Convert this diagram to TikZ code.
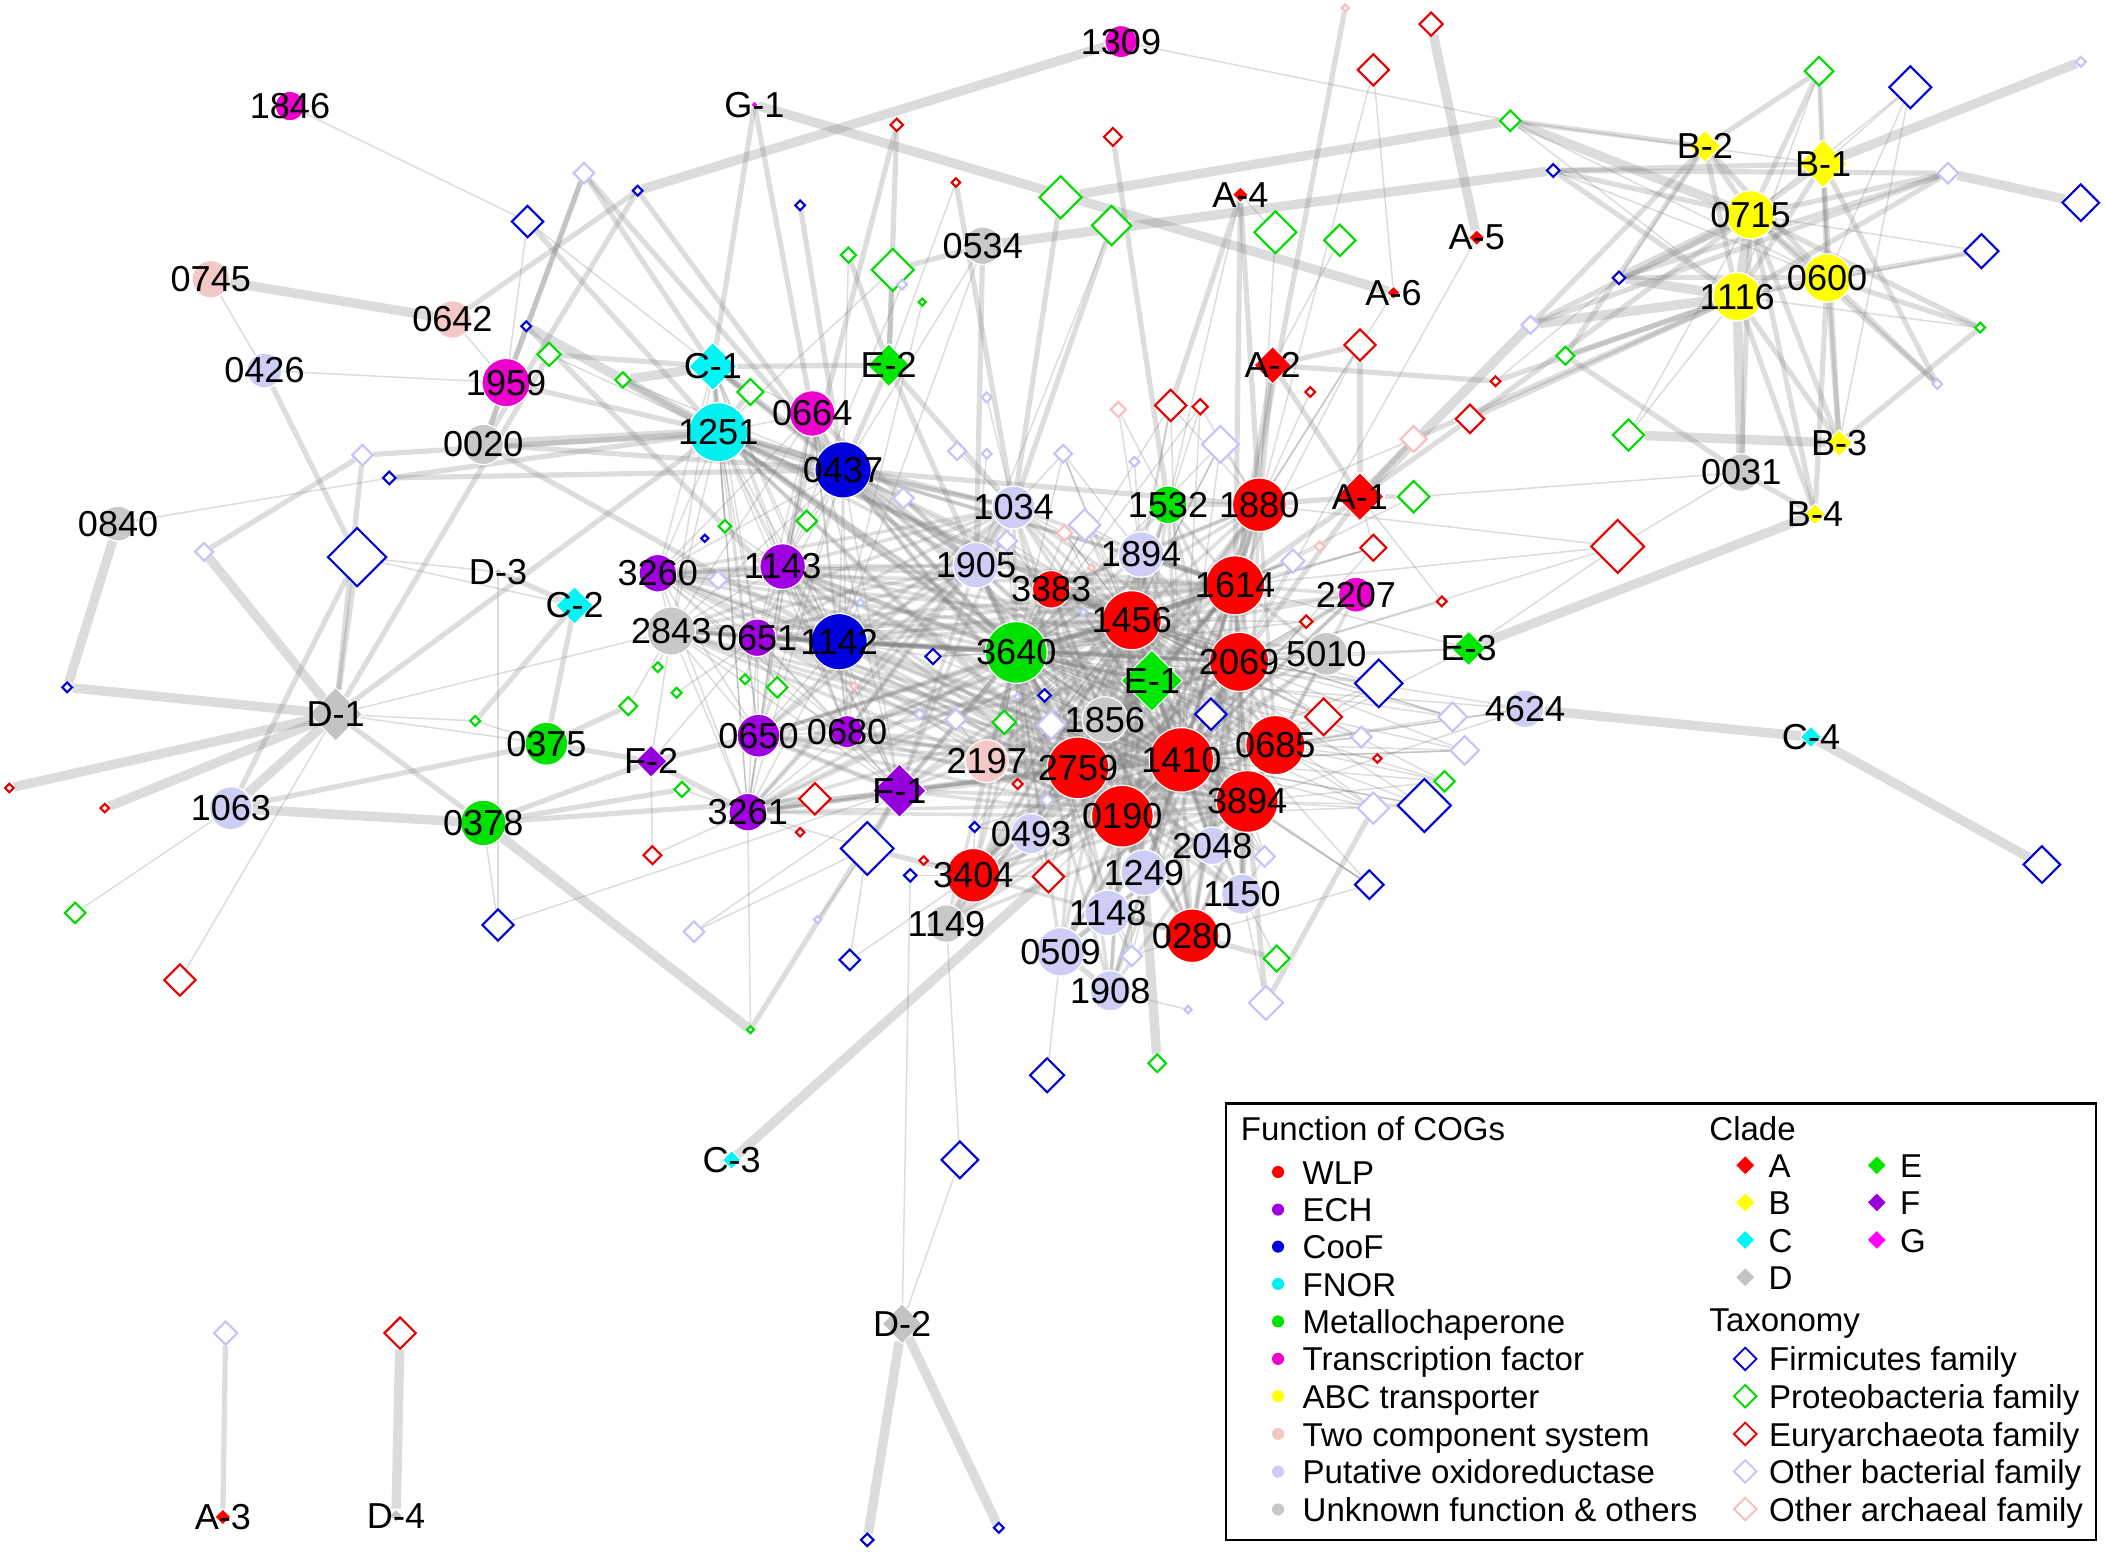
\documentclass[tikz,border=0pt]{standalone}
\usepackage{fontspec}
\setmainfont{Liberation Sans}
\usetikzlibrary{shapes.geometric}
\pgfdeclarelayer{bg}\pgfdeclarelayer{fg}\pgfsetlayers{bg,main,fg}
\definecolor{fnWLP}{RGB}{255,0,0}
\definecolor{fnECH}{RGB}{160,0,225}
\definecolor{fnCOO}{RGB}{0,0,220}
\definecolor{fnFNO}{RGB}{0,240,240}
\definecolor{fnMET}{RGB}{0,225,0}
\definecolor{fnTF}{RGB}{235,0,205}
\definecolor{fnABC}{RGB}{255,255,0}
\definecolor{fnTCS}{RGB}{245,200,200}
\definecolor{fnPOX}{RGB}{205,205,245}
\definecolor{fnUNK}{RGB}{200,200,200}
\definecolor{txFIR}{RGB}{0,0,215}
\definecolor{txPRO}{RGB}{0,220,0}
\definecolor{txEUR}{RGB}{230,0,0}
\definecolor{txOB}{RGB}{195,195,250}
\definecolor{txOA}{RGB}{250,190,190}
\definecolor{clA}{RGB}{255,0,0}
\definecolor{clB}{RGB}{255,255,0}
\definecolor{clC}{RGB}{0,245,245}
\definecolor{clD}{RGB}{195,195,195}
\definecolor{clE}{RGB}{0,230,0}
\definecolor{clF}{RGB}{150,0,220}
\definecolor{clG}{RGB}{255,0,255}
\tikzset{
 cg/.style 2 args={circle,inner sep=0pt,minimum size=#1*0.4mm,fill=#2,draw=white,line width=0.5pt},
 tx/.style 2 args={diamond,aspect=1,inner sep=0pt,minimum size=#1*0.4mm,draw=#2,fill=white,line width=0.9pt},
 cl/.style 2 args={diamond,aspect=1,inner sep=0pt,minimum size=#1*0.4mm,fill=#2,draw=white,line width=0.4pt},
 lb/.style={inner sep=0pt,font=\fontsize{15.3}{18}\selectfont},
 lg/.style={inner sep=0pt,anchor=base west,font=\fontsize{14}{17}\selectfont},
 eT/.style={draw=black!50,draw opacity=0.27,line width=0.65pt},
 eC/.style={draw=black!50,draw opacity=0.25,line width=1.5pt},
 eM/.style={draw=black!50,draw opacity=0.27,line width=2.2pt},
 eK/.style={draw=black!50,draw opacity=0.28,line width=4pt},
}
\newcommand\mkcog[6]{\node[cg={#4}{#5}] (#1) at (#2,#3) {};\begin{pgfonlayer}{fg}\node[lb] (#1l) at (#2,#3) {#6};\end{pgfonlayer}}
\newcommand\mktax[5]{\node[tx={#4}{#5}] (#1) at (#2,#3) {};}
\newcommand\mkclade[6]{\node[cl={#4}{#5}] (#1) at (#2,#3) {};\begin{pgfonlayer}{fg}\node[lb] (#1l) at (#2,#3) {#6};\end{pgfonlayer}}
\begin{document}
\begin{tikzpicture}[x=0.02cm,y=-0.02cm]
\useasboundingbox (0,0) rectangle (1568,1157);
% ---------- COG nodes
\mkcog{c1846}{216}{79}{11}{fnTF}{1846}
\mkcog{c1309}{835}{31}{12}{fnTF}{1309}
\mkcog{c0745}{157}{208}{14}{fnTCS}{0745}
\mkcog{c0642}{337}{238}{14}{fnTCS}{0642}
\mkcog{c0426}{197}{276}{13}{fnPOX}{0426}
\mkcog{c1959}{377}{285}{18}{fnTF}{1959}
\mkcog{c0020}{360}{331}{15}{fnUNK}{0020}
\mkcog{c0840}{88}{390}{13}{fnUNK}{0840}
\mkcog{c1251}{535}{322}{22}{fnFNO}{1251}
\mkcog{c0664}{605}{308}{17}{fnTF}{0664}
\mkcog{c0437}{628}{350}{21}{fnCOO}{0437}
\mkcog{c0534}{732}{183}{14}{fnUNK}{0534}
\mkcog{c1034}{755}{378}{16}{fnPOX}{1034}
\mkcog{c1532}{870}{376}{14}{fnMET}{1532}
\mkcog{c1880}{938}{376}{20}{fnWLP}{1880}
\mkcog{c1143}{583}{422}{17}{fnECH}{1143}
\mkcog{c1905}{727}{421}{17}{fnPOX}{1905}
\mkcog{c1894}{850}{413}{17}{fnPOX}{1894}
\mkcog{c3383}{783}{439}{14}{fnWLP}{3383}
\mkcog{c1614}{920}{436}{22}{fnWLP}{1614}
\mkcog{c2207}{1010}{443}{13}{fnTF}{2207}
\mkcog{c1456}{843}{462}{22}{fnWLP}{1456}
\mkcog{c3260}{490}{427}{14}{fnECH}{3260}
\mkcog{c2843}{500}{470}{18}{fnUNK}{2843}
\mkcog{c0651}{564}{475}{14}{fnECH}{0651}
\mkcog{c1142}{625}{478}{21}{fnCOO}{1142}
\mkcog{c3640}{757}{486}{23}{fnMET}{3640}
\mkcog{c2069}{923}{493}{22}{fnWLP}{2069}
\mkcog{c5010}{988}{487}{16}{fnUNK}{5010}
\mkcog{c1856}{823}{536}{17}{fnUNK}{1856}
\mkcog{c0650}{565}{548}{16}{fnECH}{0650}
\mkcog{c0680}{631}{545}{12}{fnECH}{0680}
\mkcog{c2197}{735}{567}{16}{fnTCS}{2197}
\mkcog{c2759}{803}{572}{23}{fnWLP}{2759}
\mkcog{c1410}{880}{566}{24}{fnWLP}{1410}
\mkcog{c0685}{950}{555}{22}{fnWLP}{0685}
\mkcog{c3261}{557}{605}{14}{fnECH}{3261}
\mkcog{c3894}{929}{597}{23}{fnWLP}{3894}
\mkcog{c0190}{836}{608}{23}{fnWLP}{0190}
\mkcog{c0493}{768}{621}{15}{fnPOX}{0493}
\mkcog{c2048}{903}{630}{14}{fnPOX}{2048}
\mkcog{c3404}{725}{652}{20}{fnWLP}{3404}
\mkcog{c1249}{852}{650}{17}{fnPOX}{1249}
\mkcog{c1150}{925}{666}{15}{fnPOX}{1150}
\mkcog{c1148}{825}{680}{17}{fnPOX}{1148}
\mkcog{c1149}{705}{688}{14}{fnUNK}{1149}
\mkcog{c0280}{888}{697}{20}{fnWLP}{0280}
\mkcog{c0509}{790}{709}{18}{fnPOX}{0509}
\mkcog{c1908}{827}{738}{15}{fnPOX}{1908}
\mkcog{c4624}{1136}{528}{14}{fnPOX}{4624}
\mkcog{c0375}{407}{554}{16}{fnMET}{0375}
\mkcog{c0378}{360}{613}{17}{fnMET}{0378}
\mkcog{c1063}{172}{602}{16}{fnPOX}{1063}
\mkcog{c0031}{1297}{352}{14}{fnUNK}{0031}
\mkcog{c0715}{1304}{160}{18}{fnABC}{0715}
\mkcog{c1116}{1294}{221}{18}{fnABC}{1116}
\mkcog{c0600}{1361}{207}{18}{fnABC}{0600}
% ---------- clade nodes
\mkclade{A1}{1013}{370}{18}{clA}{A-1}
\mkclade{A2}{948}{272}{14}{clA}{A-2}
\mkclade{A3}{166}{1130}{6}{clA}{A-3}
\mkclade{A4}{924}{145}{6}{clA}{A-4}
\mkclade{A5}{1100}{177}{6}{clA}{A-5}
\mkclade{A6}{1038}{218}{5}{clA}{A-6}
\mkclade{B1}{1358}{122}{18}{clB}{B-1}
\mkclade{B2}{1270}{109}{12}{clB}{B-2}
\mkclade{B3}{1370}{330}{10}{clB}{B-3}
\mkclade{B4}{1352}{383}{8}{clB}{B-4}
\mkclade{C1}{531}{273}{18}{clC}{C-1}
\mkclade{C2}{428}{451}{14}{clC}{C-2}
\mkclade{C3}{545}{864}{7}{clC}{C-3}
\mkclade{C4}{1349}{549}{8}{clC}{C-4}
\mkclade{D1}{250}{532}{20}{clD}{D-1}
\mkclade{D2}{672}{986}{15}{clD}{D-2}
\mkclade{D3}{371}{426}{3}{clD}{D-3}
\mkclade{D4}{295}{1129}{5}{clD}{D-4}
\mkclade{E1}{858}{507}{23}{clE}{E-1}
\mkclade{E2}{662}{272}{16}{clE}{E-2}
\mkclade{E3}{1094}{483}{13}{clE}{E-3}
\mkclade{F1}{670}{589}{20}{clF}{F-1}
\mkclade{F2}{485}{567}{12}{clF}{F-2}
\mkclade{G1}{562}{78}{3}{clG}{G-1}
% ---------- taxonomy nodes
\mktax{t1}{1002}{6}{3}{txOA}
\mktax{t2}{1066}{18}{9}{txEUR}
\mktax{t3}{1023}{52}{12}{txEUR}
\mktax{t4}{668}{93}{5}{txEUR}
\mktax{t5}{829}{102}{7}{txEUR}
\mktax{t6}{712}{136}{3.5}{txEUR}
\mktax{t7}{596}{153}{4}{txFIR}
\mktax{t8}{790}{147}{16}{txPRO}
\mktax{t9}{828}{168}{15}{txPRO}
\mktax{t10}{950}{173}{16}{txPRO}
\mktax{t11}{998}{179}{12}{txPRO}
\mktax{t12}{632}{190}{6}{txPRO}
\mktax{t13}{665}{201}{16}{txPRO}
\mktax{t14}{687}{225}{3}{txPRO}
\mktax{t15}{672}{212}{4}{txOB}
\mktax{t16}{1013}{257}{12}{txEUR}
\mktax{t17}{559}{292}{10}{txPRO}
\mktax{t18}{976}{292}{4}{txEUR}
\mktax{t19}{872}{302}{12}{txEUR}
\mktax{t20}{894}{303}{6}{txEUR}
\mktax{t21}{833}{305}{6}{txOA}
\mktax{t22}{909}{331}{14}{txOB}
\mktax{t23}{845}{344}{4}{txOB}
\mktax{t24}{792}{338}{7}{txOB}
\mktax{t25}{713}{336}{7}{txOB}
\mktax{t26}{735}{338}{4}{txOB}
\mktax{t27}{735}{296}{4}{txOB}
\mktax{t28}{673}{371}{8}{txOB}
\mktax{t29}{1125}{90}{8}{txPRO}
\mktax{t30}{1157}{127}{5}{txFIR}
\mktax{t31}{1355}{53}{11}{txPRO}
\mktax{t32}{1423}{65}{16}{txFIR}
\mktax{t33}{1550}{46}{4}{txOB}
\mktax{t34}{1451}{129}{8}{txOB}
\mktax{t35}{1550}{151}{14}{txFIR}
\mktax{t36}{1476}{187}{13}{txFIR}
\mktax{t37}{1206}{207}{5}{txFIR}
\mktax{t38}{1475}{244}{4}{txPRO}
\mktax{t39}{1140}{242}{7}{txOB}
\mktax{t40}{1166}{265}{7}{txPRO}
\mktax{t41}{1443}{286}{4}{txOB}
\mktax{t42}{1114}{284}{4}{txEUR}
\mktax{t43}{1095}{312}{11}{txEUR}
\mktax{t44}{1053}{327}{10}{txOA}
\mktax{t45}{1213}{324}{12}{txPRO}
\mktax{t46}{1053}{370}{12}{txPRO}
\mktax{t47}{1205}{407}{20}{txEUR}
\mktax{t48}{1074}{448}{4}{txEUR}
\mktax{t49}{1023}{408}{10}{txEUR}
\mktax{t50}{983}{407}{4}{txOA}
\mktax{t51}{963}{418}{9}{txOB}
\mktax{t52}{973}{463}{5}{txEUR}
\mktax{t53}{393}{165}{12}{txFIR}
\mktax{t54}{435}{129}{8}{txOB}
\mktax{t55}{475}{142}{4}{txFIR}
\mktax{t56}{392}{243}{4}{txFIR}
\mktax{t57}{409}{264}{9}{txPRO}
\mktax{t58}{464}{283}{6}{txPRO}
\mktax{t59}{270}{339}{8}{txOB}
\mktax{t60}{290}{356}{5}{txFIR}
\mktax{t61}{152}{411}{7}{txOB}
\mktax{t62}{266}{415}{22}{txFIR}
\mktax{t63}{50}{512}{4}{txFIR}
\mktax{t64}{354}{537}{4}{txPRO}
\mktax{t65}{468}{526}{7}{txPRO}
\mktax{t66}{490}{497}{4}{txPRO}
\mktax{t67}{504}{516}{4}{txPRO}
\mktax{t68}{7}{587}{3.5}{txEUR}
\mktax{t69}{78}{602}{3.5}{txEUR}
\mktax{t70}{508}{588}{6}{txPRO}
\mktax{t71}{486}{637}{7}{txEUR}
\mktax{t72}{56}{680}{8}{txPRO}
\mktax{t73}{371}{689}{12}{txFIR}
\mktax{t74}{517}{694}{8}{txOB}
\mktax{t75}{134}{730}{12}{txEUR}
\mktax{t76}{535}{432}{7}{txOB}
\mktax{t77}{540}{392}{5}{txPRO}
\mktax{t78}{601}{388}{8}{txPRO}
\mktax{t79}{525}{401}{3}{txFIR}
\mktax{t80}{750}{403}{8}{txOB}
\mktax{t81}{793}{397}{6}{txOA}
\mktax{t82}{808}{391}{12}{txOB}
\mktax{t83}{813}{423}{3}{txOA}
\mktax{t84}{807}{456}{3}{txOB}
\mktax{t85}{641}{449}{3}{txOB}
\mktax{t86}{695}{489}{6}{txFIR}
\mktax{t87}{555}{506}{4}{txPRO}
\mktax{t88}{579}{512}{8}{txPRO}
\mktax{t89}{778}{518}{5}{txFIR}
\mktax{t90}{758}{519}{3}{txOB}
\mktax{t91}{636}{511}{3}{txOA}
\mktax{t92}{902}{532}{12}{txFIR}
\mktax{t93}{1027}{509}{18}{txFIR}
\mktax{t94}{685}{532}{4}{txOB}
\mktax{t95}{712}{536}{8}{txOB}
\mktax{t96}{748}{538}{9}{txPRO}
\mktax{t97}{783}{540}{11}{txOB}
\mktax{t98}{986}{534}{14}{txEUR}
\mktax{t99}{1014}{549}{8}{txOB}
\mktax{t100}{1026}{565}{3.5}{txEUR}
\mktax{t101}{607}{595}{12}{txEUR}
\mktax{t102}{758}{584}{4}{txEUR}
\mktax{t103}{780}{596}{5}{txOB}
\mktax{t104}{1023}{602}{12}{txOB}
\mktax{t105}{596}{620}{3.5}{txEUR}
\mktax{t106}{646}{632}{20}{txFIR}
\mktax{t107}{726}{616}{4}{txFIR}
\mktax{t108}{688}{641}{3.5}{txEUR}
\mktax{t109}{678}{652}{5}{txFIR}
\mktax{t110}{781}{653}{12}{txEUR}
\mktax{t111}{942}{638}{8}{txOB}
\mktax{t112}{1020}{659}{11}{txFIR}
\mktax{t113}{609}{685}{3}{txOB}
\mktax{t114}{633}{715}{8}{txFIR}
\mktax{t115}{843}{712}{8}{txOB}
\mktax{t116}{951}{714}{10}{txPRO}
\mktax{t117}{943}{747}{13}{txOB}
\mktax{t118}{885}{752}{3}{txOB}
\mktax{t119}{559}{767}{3}{txPRO}
\mktax{t120}{1082}{534}{11}{txOB}
\mktax{t121}{1091}{559}{11}{txOB}
\mktax{t122}{1076}{582}{8}{txPRO}
\mktax{t123}{1061}{600}{20}{txFIR}
\mktax{t124}{1521}{644}{14}{txFIR}
\mktax{t125}{780}{801}{13}{txFIR}
\mktax{t126}{862}{792}{7}{txPRO}
\mktax{t127}{715}{864}{14}{txFIR}
\mktax{t128}{646}{1147}{5}{txFIR}
\mktax{t129}{744}{1138}{4}{txFIR}
\mktax{t130}{168}{993}{9}{txOB}
\mktax{t131}{298}{993}{12}{txEUR}
% ---------- edges
\begin{pgfonlayer}{bg}
\foreach \a/\b in {c0745/c0642,c0840/t63,t63/D1,t68/D1,t69/D1,D1/c1063,c1063/c0378,t61/D1,c0378/t119,t55/c1309,G1/A6,c0534/t30,t8/t29,t33/B1,t35/t34,t37/c0715,t37/c1116,t39/c1116,t39/A1,t45/B3,c0031/c1116,B4/E3,c0715/c1116,c4624/C4,C4/t124,D2/t128,D2/t129,C3/t110,c0020/c1251,t56/c1251,c1251/c0437,t58/C1,t126/c1249,t131/D4,t2/A5,t29/c0715}
  \draw[eK] (\a) -- (\b);
\foreach \a/\b in {c0642/t55,c0426/t62,D1/c0378,t62/D1,C2/t64,C2/D3,c1063/c0375,t62/c1063,D1/t59,D1/c1251,D1/t57,c0375/t65,c0375/F2,c0378/F2,c0378/t70,c0378/t101,c0375/C2,t61/t59,c1959/c1251,c0020/c0437,t53/c1251,t54/c0437,t54/C1,t55/c0437,t55/c0020,t56/c1142,t57/C1,t58/c1251,t59/c1251,t60/c0437,t60/c1251,c0020/c1142,G1/C1,G1/c0664,c1251/C1,C1/E2,c0664/c0437,E2/c0437,t4/E2,t4/c1143,t7/c0437,t13/E2,t13/c0534,t6/c1034,t5/c1532,t8/c1034,c0534/c1905,A4/c1880,A4/t19,A4/c1614,A2/t16,A2/c1880,A2/c1614,A2/A1,A2/t42,A1/t16,A1/c1880,A1/c1614,A1/c2069,A1/t46,A1/t44,A1/t43,t1/c1614,t29/B2,t30/B1,t30/t34,t30/c0715,t30/c1116,t31/B2,t31/c0715,t31/B1,t34/c0715,t34/c1116,t34/t39,t34/t37,t36/c0600,t38/c0600,t38/c0715,t38/B3,t41/c0600,t41/c0715,t41/B1,t37/c0600,t39/c0715,t39/B2,t40/c1116,t40/B2,t40/c0031,c0031/c0715,c0031/B4,B3/c0600,B3/c0715,B3/c1116,B3/B1,B4/c0600,B4/c1116,B4/c0715,B1/c0715,B1/c0600,B1/c1116,B2/c0715,B2/c1116,B2/c0600,c0715/c0600,c1116/c0600,t42/c1116,t43/c0715,t43/c1116,t44/c1116,F2/c0650,F2/c3261,t119/F1,t117/c3894,t104/t117,t116/c0280,t54/c1959,t54/c0020,c1959/c0020,C1/c0437,t9/c1034,t12/E2,t17/c1251,t17/C1,t130/A3}
  \draw[eM] (\a) -- (\b);
\foreach \a/\b in {c0437/c1034,c0437/c3640,c0437/c1880,c1142/c3640,c1251/c3640,c1251/c1456,c0664/c1905,C1/c1905,E2/c3640,E2/c1034,c1143/c3640,F1/c3640,F1/c2759,F1/t106,t106/c3404,c3404/c1149,c0190/c1410,c1410/c2069,c1614/c2069,c1456/c1614,c1880/c1614,c2759/c0190,c3894/c0685,c0280/c1148,c0509/c1148,c1908/c0509,c1249/c0190,c1150/c3894,c2048/c1410,c3640/c1456,c3640/E1,E1/c2069,c1856/c2759,c3383/c1456,c1894/c1614,c1532/c1880,c1034/c1905,c0650/F1,c3261/F1,c0651/c1142,c2843/c1142,c3260/c1143,c1143/c1142}
  \draw[eM] (\a) -- (\b);
\foreach \a/\b in {c1846/t53,c0745/c0426,c0426/c1959,c0642/c1959,c1959/t53,c0840/t60,t62/D3,t62/C2,D3/t73,c0378/t73,t73/F1,D1/t75,c1063/t72,D1/c0375,D1/t64,D1/c2843,t53/C1,t12/c0437,t13/c1251,t14/c1142,t6/E2,t9/c1905,c0534/c1142,c0534/c0437,A4/t10,A4/c1532,t11/A2,t10/c1880,t3/c1880,t3/A6,A6/c1880,A5/c2069,c1309/t29,t29/c1116,t29/c0600,t29/B1,t30/c0600,t31/c1116,t31/c0600,t32/B1,t32/c0715,t32/c0600,t32/B3,t36/c0715,t36/c1116,t38/c1116,t37/B2,t42/t37,t45/c1116,t45/c0715,c0031/t46,c0031/t47,E3/t47,E3/c2069,E3/c0685,E3/c1614,E3/c5010,c4624/c2069,c4624/c0685,c4624/c1410,c4624/E1,c4624/c3894,t47/c1614,t47/c2069,t47/c1880,t15/c1143,t27/c1034,t127/D2,t127/c1149,t125/c0509,D2/t109,t74/F1,t74/t106,t119/c3261,F2/c0651,F2/c2843,t71/c3261,t71/F2,t121/c0685,t121/c1410,t120/c2069,t120/c1456,t122/c3894,t122/c0685,t123/c3894,t123/c0190,t123/c1410,t104/c0685,t104/c3894,t112/c3894,t112/c0280,t111/c1150,t111/c3894,t116/c1150,t115/c1148,t115/c0280,t118/c1908,t117/c1150,t99/c0685,t100/c0685,t98/c2069,t93/c2069,t93/c0685,t92/E1,t92/c1410,t49/A1,t49/c1614,t50/c1614,t51/c1614,t52/c2069,t48/c2069,t48/A1,t46/c1614,t44/c1880,t22/c1880,t22/c1456,t19/c1880,t19/c1894,t20/c1880,t21/c1532,t21/c1894,t23/c1894,t24/c1034,t24/c1894,t25/c1034,t26/c1905,t28/c1905,t28/c0437,t18/c1880,t16/c1880,t16/c1614,t76/c1143,t76/c3260,t77/c1251,t77/c1143,t78/c0437,t78/c1143,t79/c3260,t80/c1905,t80/c1034,t81/c1034,t81/c1456,t82/c1894,t82/c3383,t83/c3383,t84/c1456,t85/c1142,t86/c3640,t86/c1142,t87/c0651,t88/c0650,t88/c0651,t89/c3640,t90/c3640,t91/c0680,t94/c2197,t95/c2197,t96/c3640,t97/c1856,t97/c2759,t101/c3261,t101/F1,t102/c2197,t103/c2759,t105/c3261,t106/c3261,t107/c3404,t107/c0493,t108/c3404,t109/c3404,t110/c3404,t110/c0493,t113/t106,t114/c3404,t114/t106,t66/c2843,t67/c0651,t65/c2843,t70/c3261,t64/c0375,t57/c1251,t58/c0437}
  \draw[eT] (\a) -- (\b);
% dense core
\foreach \a [count=\i] in {c1880,c1614,c1456,c2069,c3383,c1410,c2759,c0685,c3894,c0190,c3404,c0280,c3640,E1,c1856,c1894}{
  \foreach \b [count=\j] in {c1880,c1614,c1456,c2069,c3383,c1410,c2759,c0685,c3894,c0190,c3404,c0280,c3640,E1,c1856,c1894}{
    \ifnum\j>\i\relax \draw[eC] (\a) -- (\b);\fi}}
\foreach \a in {c1905,c1034,c0493,c2048,c1249,c1150,c1148,c0509,c1908,c2197,c5010,c2207,c1149,c1532}{
  \foreach \b in {c1614,c1456,c2069,c1410,c2759,c0190,c3894,c3640}{\draw[eC] (\a) -- (\b);}}
\foreach \a [count=\i] in {c1143,c0651,c1142,c0650,c0680,c3260,c3261,c2843,F1,c0437,c1251,C1,c0664}{
  \foreach \b [count=\j] in {c1143,c0651,c1142,c0650,c0680,c3260,c3261,c2843,F1,c0437,c1251,C1,c0664}{
    \ifnum\j>\i\relax \draw[eT] (\a) -- (\b);\fi}}
\foreach \a in {c1143,c0651,c1142,c0650,c0680,c3260,c3261,c2843,F1,c0437,c1251}{
  \foreach \b in {c3640,c1456,c1614,c2069,c1410,c2759,c0190,c3894,c1034,c1905}{\draw[eC] (\a) -- (\b);}}
\foreach \a in {t80,t81,t82,t84,t86,t89,t92,t93,t95,t96,t97,t98,t99,t102,t103,t104,t107,t110,t111,t112,t115,t19,t20,t22,t24,t49,t51,t52,t120,t121,t122,t123}{
  \foreach \b in {c1456,c1410,c3640}{\draw[eT] (\a) -- (\b);}}
\end{pgfonlayer}
% ---------- legend
\draw[line width=0.9pt,fill=white] (913,822) rectangle (1561,1147);
\node[lg] (lh1) at (924,849.6) {Function of COGs};
\node[lg] (lh2) at (1273,849.6) {Clade};
\node[lg] (lh3) at (1273,991.9) {Taxonomy};
\foreach \c/\t/\yy [count=\k] in {fnWLP/WLP/882,fnECH/ECH/910,fnCOO/CooF/937.6,fnFNO/FNOR/965.4,fnMET/Metallochaperone/993.3,fnTF/Transcription factor/1021.2,fnABC/ABC transporter/1049,fnTCS/Two component system/1077.1,fnPOX/Putative oxidoreductase/1105.2,fnUNK/Unknown function \& others/1133.3}{
  \node[circle,inner sep=0pt,minimum size=1.8mm,fill=\c] (ld\k) at (952,\yy-9) {};
  \node[lg] (lt\k) at (970,\yy) {\t};}
\foreach \c/\t/\xx/\yy [count=\k] in {clA/A/1300/877,clB/B/1300/904.7,clC/C/1300/932.6,clD/D/1300/960.4,clE/E/1398/877,clF/F/1398/904.7,clG/G/1398/932.6}{
  \node[cl={7.4}{\c}] (lcd\k) at (\xx,\yy-9) {};
  \node[lg] (lct\k) at (\xx+17,\yy) {\t};}
\foreach \c/\t/\yy [count=\k] in {txFIR/Firmicutes family/1021.2,txPRO/Proteobacteria family/1049,txEUR/Euryarchaeota family/1077.1,txOB/Other bacterial family/1105,txOA/Other archaeal family/1133}{
  \node[tx={8.7}{\c},line width=0.8pt] (ltd\k) at (1300,\yy-9) {};
  \node[lg] (ltt\k) at (1317.5,\yy) {\t};}
\end{tikzpicture}
\end{document}
